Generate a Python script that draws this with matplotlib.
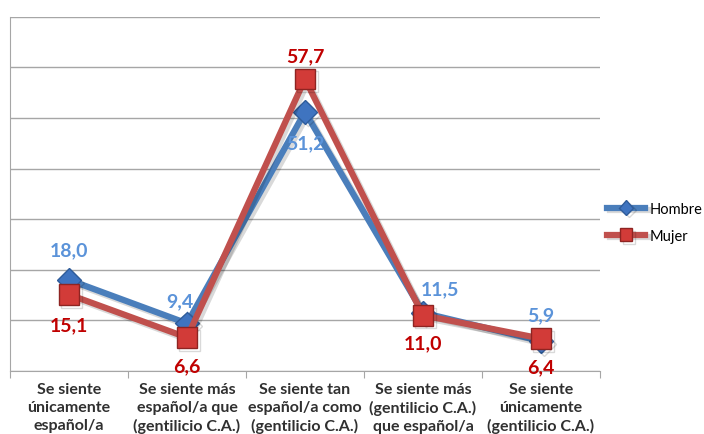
import matplotlib
matplotlib.use('Agg')
import matplotlib.pyplot as plt
import matplotlib.patheffects as pe

plt.rcParams['font.family'] = ['Lato', 'DejaVu Sans']

categories = ['Se siente\núnicamente\nespañol/a',
              'Se siente más\nespañol/a que\n(gentilicio C.A.)',
              'Se siente tan\nespañol/a como\n(gentilicio C.A.)',
              'Se siente más\n(gentilicio C.A.)\nque español/a',
              'Se siente\núnicamente\n(gentilicio C.A.)']
hombre = [18.0, 9.4, 51.2, 11.5, 5.9]
mujer = [15.1, 6.6, 57.7, 11.0, 6.4]

# label offsets in points (dx, dy)
hombre_off = [(0, 22), (-5, 16), (0, -22), (12, 17), (0, 19)]
mujer_off = [(0, -22), (0, -20), (0, 17), (0, -20), (0, -20)]

blue = '#4A7EBB'
blue_txt = '#5B93D9'
red = '#C0504D'
red_txt = '#C00000'

fig = plt.figure(figsize=(7.04, 4.35), dpi=100)
ax = fig.add_axes([0.0142, 0.145, 0.838, 0.814])

x = range(len(categories))
shadow = [pe.SimpleLineShadow(offset=(2, -2), alpha=0.15, shadow_color='k'), pe.Normal()]
ax.plot(x, hombre, color=blue, lw=4.5, marker='D', ms=12, mfc='#3F74C0', mec='#2F5C9A',
        mew=1, label='Hombre', path_effects=shadow, zorder=3)
ax.plot(x, mujer, color=red, lw=4.5, marker='s', ms=15, mfc='#D23B38', mec='#8E2422',
        mew=1, label='Mujer', path_effects=shadow, zorder=4)

for i in x:
    ax.annotate(f'{hombre[i]:.1f}'.replace('.', ','), (i, hombre[i]), textcoords='offset points',
                xytext=hombre_off[i], ha='center', va='center', color=blue_txt,
                fontsize=14, fontweight='bold', zorder=5)
    ax.annotate(f'{mujer[i]:.1f}'.replace('.', ','), (i, mujer[i]), textcoords='offset points',
                xytext=mujer_off[i], ha='center', va='center', color=red_txt,
                fontsize=14, fontweight='bold', zorder=5)

ax.set_xlim(-0.5, 4.5)
ax.set_ylim(0, 70)
ax.set_yticks(range(0, 71, 10))
ax.set_yticklabels([])
ax.tick_params(axis='y', length=0)
ax.grid(axis='y', color='#A6A6A6', lw=1)
ax.set_axisbelow(True)

ax.set_xticks([i - 0.5 for i in range(6)])
ax.set_xticklabels([])
ax.tick_params(axis='x', length=5, color='#A6A6A6', direction='out')
for i, c in enumerate(categories):
    ax.text(i, -2.2, c, ha='center', va='top', fontsize=11.5, fontweight='bold',
            color='#303030', linespacing=1.35)

for s in ['top', 'right']:
    ax.spines[s].set_visible(False)
for s in ['left', 'bottom']:
    ax.spines[s].set_color('#A6A6A6')

ax.legend(loc='center left', bbox_to_anchor=(0.99, 0.42), frameon=False, fontsize=10.5,
          handlelength=2.6, handletextpad=0.3, labelspacing=0.9, markerscale=0.6)

fig.savefig('out.png', dpi=100)
